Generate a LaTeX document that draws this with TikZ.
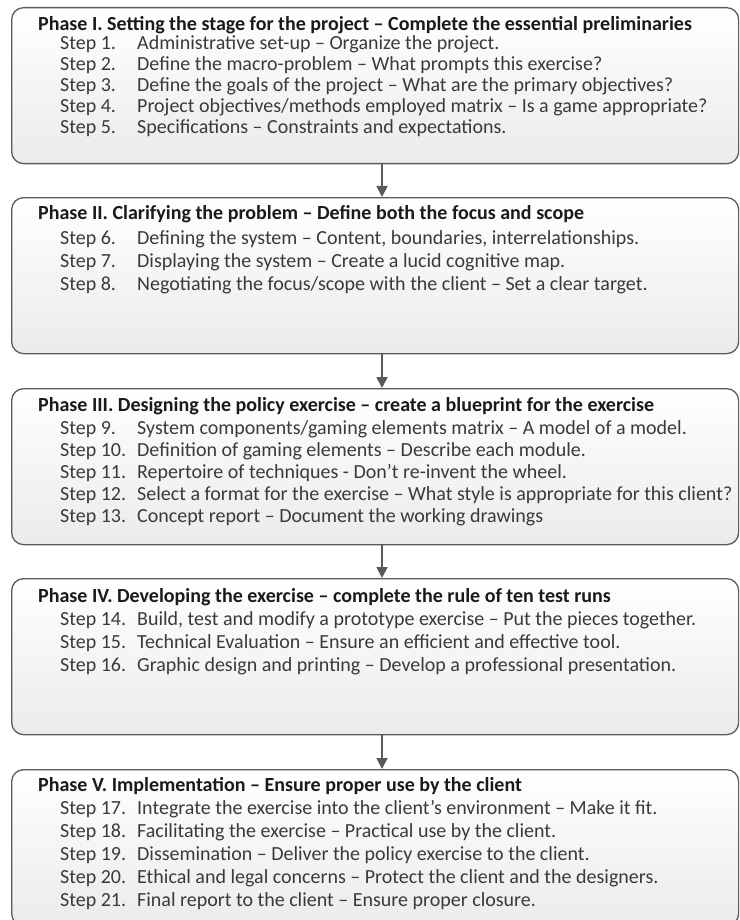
\documentclass[tikz,border=0pt]{standalone}
\usepackage{fontspec}
\setmainfont{Carlito}
\usetikzlibrary{arrows.meta}
\definecolor{edgegray}{HTML}{5A5A5A}
\definecolor{fillbottom}{HTML}{EBEBEB}
\definecolor{steptext}{HTML}{3A3A3A}
\definecolor{titletext}{HTML}{1A1A1A}
\tikzset{
  x=1pt, y=-1pt,
  phasebox/.style={draw=edgegray, line width=1.3pt, rounded corners=12pt,
    top color=white, bottom color=fillbottom, anchor=north west,
    minimum width=727pt, minimum height=156pt, inner sep=0pt},
  phasetext/.style={anchor=north west, inner sep=0pt, align=left, text=steptext},
  flow/.style={draw=edgegray, line width=1.8pt,
    -{Triangle[length=11pt,width=11pt]}}
}
% a phase heading followed by its numbered steps
% #1 line pitch, #2 extra gap under the heading, #3 heading, #4 steps
\newcommand{\phaselist}[4]{%
  \fontsize{20}{#1}\selectfont
  \begin{tabular}{@{\hspace{22pt}}l@{}l@{}}
  \multicolumn{2}{@{}l@{}}{\textcolor{titletext}{\bfseries #3}}\\[#2]
  #4
  \end{tabular}}
\newcommand{\stepno}[1]{\makebox[77pt][l]{Step #1.}}
\begin{document}
\begin{tikzpicture}
\useasboundingbox (0,0) rectangle (739,920);
\clip (0,0) rectangle (739,920);
\coordinate (ax) at (382,0);

% phase boxes
\node[phasebox] (p1) at (11,7) {};
\node[phasebox] (p2) at (11,197) {};
\node[phasebox] (p3) at (11,388) {};
\node[phasebox] (p4) at (11,578) {};
\node[phasebox] (p5) at (11,769) {};

% box contents
\node[phasetext] (t1) at ([xshift=27pt,yshift=-8.5pt]p1.north west) {\phaselist{21pt}{-2pt}
  {Phase I. Setting the stage for the project – Complete the essential preliminaries}
  {\stepno{1} & Administrative set-up – Organize the project.\\
   \stepno{2} & Define the macro-problem – What prompts this exercise?\\
   \stepno{3} & Define the goals of the project – What are the primary objectives?\\
   \stepno{4} & Project objectives/methods employed matrix – Is a game appropriate?\\
   \stepno{5} & Specifications – Constraints and expectations.}};

\node[phasetext] (t2) at ([xshift=27pt,yshift=-6.5pt]p2.north west) {\phaselist{22.7pt}{2.5pt}
  {Phase II. Clarifying the problem – Define both the focus and scope}
  {\stepno{6} & Defining the system – Content, boundaries, interrelationships.\\
   \stepno{7} & Displaying the system – Create a lucid cognitive map.\\
   \stepno{8} & Negotiating the focus/scope with the client – Set a clear target.}};

\node[phasetext] (t3) at ([xshift=27pt,yshift=-8pt]p3.north west) {\phaselist{22pt}{0.5pt}
  {Phase III. Designing the policy exercise – create a blueprint for the exercise}
  {\stepno{9} & System components/gaming elements matrix – A model of a model.\\
   \stepno{10} & Definition of gaming elements – Describe each module.\\
   \stepno{11} & Repertoire of techniques - Don’t re-invent the wheel.\\
   \stepno{12} & Select a format for the exercise – What style is appropriate for this client?\\
   \stepno{13} & Concept report – Document the working drawings}};

\node[phasetext] (t4) at ([xshift=27pt,yshift=-8.5pt]p4.north west) {\phaselist{22.8pt}{0pt}
  {Phase IV. Developing the exercise – complete the rule of ten test runs}
  {\stepno{14} & Build, test and modify a prototype exercise – Put the pieces together.\\
   \stepno{15} & Technical Evaluation – Ensure an efficient and effective tool.\\
   \stepno{16} & Graphic design and printing – Develop a professional presentation.}};

\node[phasetext] (t5) at ([xshift=27pt,yshift=-6pt]p5.north west) {\phaselist{23pt}{0pt}
  {Phase V. Implementation – Ensure proper use by the client}
  {\stepno{17} & Integrate the exercise into the client’s environment – Make it fit.\\
   \stepno{18} & Facilitating the exercise – Practical use by the client.\\
   \stepno{19} & Dissemination – Deliver the policy exercise to the client.\\
   \stepno{20} & Ethical and legal concerns – Protect the client and the designers.\\
   \stepno{21} & Final report to the client – Ensure proper closure.}};

% connectors between phases
\draw[flow] (p1.south -| ax) -- (p2.north -| ax);
\draw[flow] (p2.south -| ax) -- (p3.north -| ax);
\draw[flow] (p3.south -| ax) -- (p4.north -| ax);
\draw[flow] (p4.south -| ax) -- (p5.north -| ax);
\end{tikzpicture}
\end{document}
